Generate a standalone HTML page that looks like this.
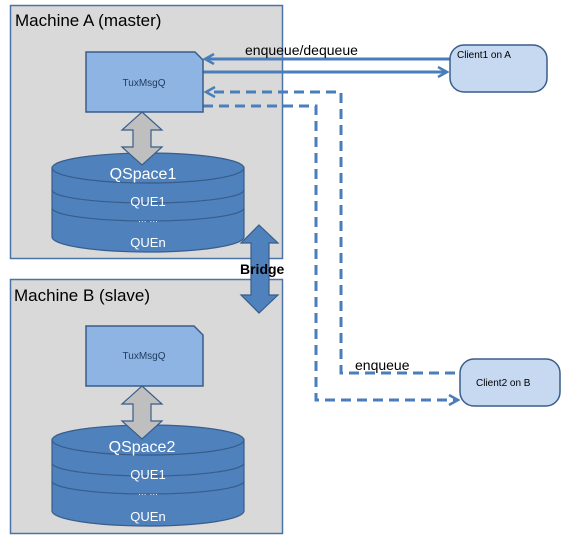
<!DOCTYPE html>
<html><head><style>body{margin:0;background:#fff}svg{display:block}</style></head><body>
<svg width="562" height="536" viewBox="0 0 562 536" xmlns="http://www.w3.org/2000/svg" font-family="Liberation Sans, sans-serif">
<defs>
<marker id="ah" markerWidth="12" markerHeight="12" refX="10" refY="6" orient="auto" markerUnits="userSpaceOnUse">
<path d="M1,1 L10,6 L1,11" fill="none" stroke="#4a7ebb" stroke-width="2.5"/></marker>
</defs>
<!-- Machine boxes -->
<rect x="10.5" y="5.5" width="272" height="253" fill="#d9d9d9" stroke="#4a73a8" stroke-width="1.5"/>
<rect x="10.5" y="279.5" width="272" height="254" fill="#d9d9d9" stroke="#4a73a8" stroke-width="1.5"/>
<text x="15" y="26" font-size="17" fill="#000">Machine A (master)</text>
<text x="14" y="301" font-size="17" fill="#000">Machine B (slave)</text>

<!-- Connectors -->
<g stroke="#4a7ebb" stroke-width="3" fill="none">
<line x1="450" y1="59" x2="205" y2="59" marker-end="url(#ah)"/>
<line x1="203" y1="72" x2="447" y2="72" marker-end="url(#ah)"/>
<g stroke-dasharray="10,6">
<path d="M455,373 L341,373 L341,92 L206,92" marker-end="url(#ah)"/>
<path d="M203,106 L316,106 L316,400 L458,400" marker-end="url(#ah)"/>
</g>
</g>
<text x="245" y="55" font-size="14">enqueue/dequeue</text>
<text x="355" y="370" font-size="14">enqueue</text>

<!-- Clients -->
<rect x="450" y="45" width="97" height="47" rx="14" fill="#c6d9f1" stroke="#385d8a" stroke-width="1.5"/>
<text x="457" y="58" font-size="10">Client1 on A</text>
<rect x="460" y="359" width="100" height="47" rx="14" fill="#c6d9f1" stroke="#385d8a" stroke-width="1.5"/>
<text x="476" y="386" font-size="10">Client2 on B</text>

<!-- TuxMsgQ A -->
<path d="M86,52 L195,52 L203,60 L203,112 L86,112 Z" fill="#8eb4e3" stroke="#385d8a" stroke-width="1.5"/>
<text x="144" y="86" font-size="10" text-anchor="middle" fill="#1f3a5c">TuxMsgQ</text>
<!-- TuxMsgQ B -->
<path d="M86,326 L194,326 L203,335 L203,386 L86,386 Z" fill="#8eb4e3" stroke="#385d8a" stroke-width="1.5"/>
<text x="144" y="359" font-size="10" text-anchor="middle" fill="#1f3a5c">TuxMsgQ</text>

<!-- Cylinder A -->
<g stroke="#385d8a" stroke-width="1.2">
<path d="M52,168 L52,237 A96,15 0 0 0 244,237 L244,168 Z" fill="#4f81bd"/>
<ellipse cx="148" cy="168" rx="96" ry="15" fill="#4f81bd"/>
<path d="M52,190 A96,13 0 0 0 244,190" fill="none"/>
<path d="M52,208 A96,13 0 0 0 244,208" fill="none"/>
</g>
<g fill="#fff" text-anchor="middle">
<text x="143" y="179" font-size="16">QSpace1</text>
<text x="148" y="206" font-size="13">QUE1</text>
<text x="148" y="222" font-size="9">… …</text>
<text x="148" y="247" font-size="13">QUEn</text>
</g>
<!-- Cylinder B -->
<g stroke="#385d8a" stroke-width="1.2">
<path d="M52,440 L52,511 A96,15 0 0 0 244,511 L244,440 Z" fill="#4f81bd"/>
<ellipse cx="148" cy="440" rx="96" ry="15" fill="#4f81bd"/>
<path d="M52,463 A96,13 0 0 0 244,463" fill="none"/>
<path d="M52,481 A96,13 0 0 0 244,481" fill="none"/>
</g>
<g fill="#fff" text-anchor="middle">
<text x="142" y="452" font-size="16">QSpace2</text>
<text x="148" y="479" font-size="13">QUE1</text>
<text x="148" y="495" font-size="9">… …</text>
<text x="148" y="521" font-size="13">QUEn</text>
</g>

<!-- Gray double arrows -->
<path d="M142,112 L162,130 L151,130 L151,147 L162,147 L142,165 L122,147 L133,147 L133,130 L122,130 Z" fill="#bfbfbf" stroke="#385d8a" stroke-width="1.2"/>
<path d="M142,386 L162,404 L151,404 L151,421 L162,421 L142,439 L122,421 L133,421 L133,404 L122,404 Z" fill="#bfbfbf" stroke="#385d8a" stroke-width="1.2"/>

<!-- Bridge arrow -->
<path d="M259,225 L278,243 L269,243 L269,295 L278,295 L259,313 L241,295 L251,295 L251,243 L241,243 Z" fill="#4f81bd" stroke="#385d8a" stroke-width="1.2"/>
<text x="240" y="274" font-size="14" font-weight="bold" fill="#000">Bridge</text>
</svg>
</body></html>
